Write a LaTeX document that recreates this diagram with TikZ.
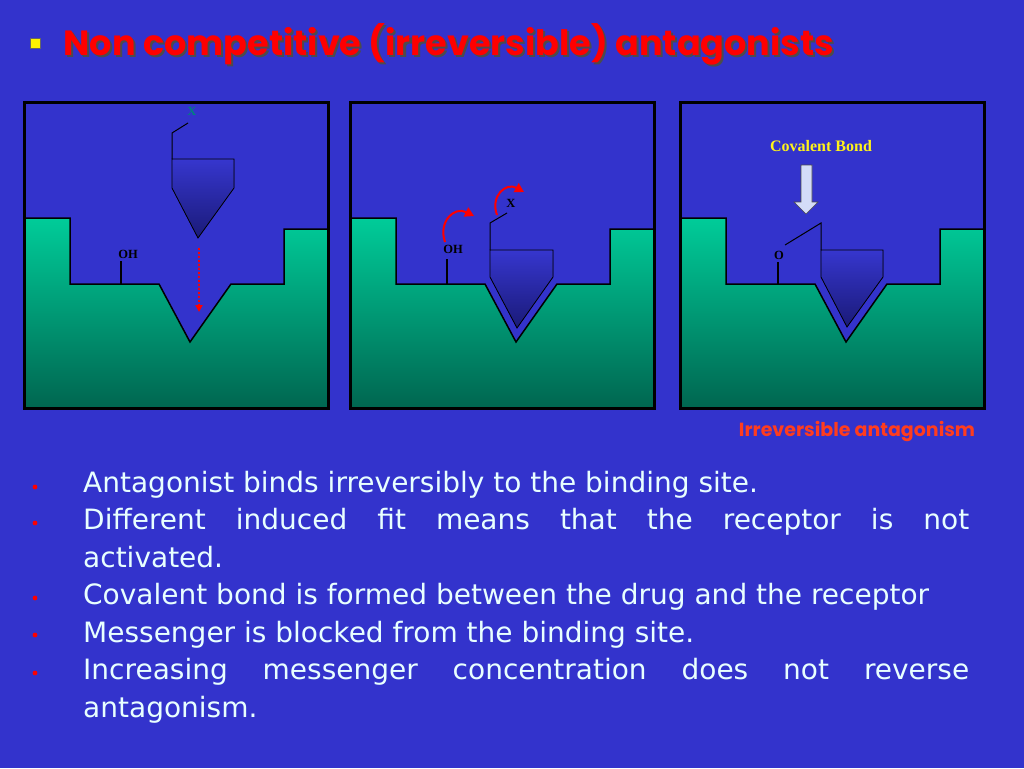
\documentclass[tikz,border=0pt]{standalone}
\usepackage{fontspec}
\setmainfont{Liberation Serif}
\newfontfamily\bodyfont{DejaVu Sans}
\newfontfamily\titlefont{Poppins}
\usetikzlibrary{arrows.meta,shadows}
\definecolor{bg}{HTML}{3333CC}
\definecolor{gtop}{HTML}{00CC99}
\definecolor{gbot}{HTML}{006650}
\definecolor{dtop}{HTML}{3636CE}
\definecolor{dbot}{HTML}{1A1A78}
\definecolor{txt}{HTML}{E8FFFF}
\definecolor{lav}{HTML}{D4DCF8}
\tikzset{
 receptor/.style={top color=gtop,bottom color=gbot,draw=black,line width=1.5pt},
 drug/.style={top color=dtop,bottom color=dbot,draw=black,line width=0.8pt},
 boxframe/.style={draw=black,line width=3pt},
 stem/.style={draw=black,line width=1.4pt},
 lbl/.style={font=\bfseries\fontsize{12.5}{13}\selectfont,inner sep=0pt},
 redarr/.style={draw=red,line width=2pt,-{Triangle[length=9pt,width=10pt]}},
}
\newcommand{\panelbase}{%
 \fill[receptor] (24,218) -- (70,218) -- (70,284) -- (159,284) -- (190,342) -- (231,284) -- (284,284) -- (284,229) -- (328,229) -- (328,408) -- (24,408) -- cycle;
 \draw[boxframe] (24,102) rectangle (328,408);
}
\begin{document}
\begin{tikzpicture}[x=1pt,y=-1pt]
\fill[bg] (0,0) rectangle (1024,768);
\useasboundingbox (0,0) rectangle (1024,768);
% title
\fill[yellow,draw=black!60,line width=0.4pt] (30,38) rectangle (40,48);
\node[anchor=west,text=black!70,font=\titlefont\bfseries\fontsize{35}{40}\selectfont] at (62,46) {Non competitive (irreversible) antagonists};
\node[anchor=west,text=red,font=\titlefont\bfseries\fontsize{35}{40}\selectfont] (title) at (60,44) {Non competitive (irreversible) antagonists};
% panel 1
\begin{scope}
 \panelbase
 \fill[drug] (172,159) -- (234,159) -- (234,188) -- (198,238) -- (172,188) -- cycle;
 \draw[line width=1pt] (188,123) -- (172,133) -- (172,159);
 \node[lbl,text=teal] (x1) at (192,111) {X};
 \draw[stem] (121,284) -- (121,261);
 \node[lbl] (oh1) at (128,254) {OH};
 \coordinate (a1) at (199,248);
 \coordinate (b1) at (199,312);
 \draw[red,line width=2pt,dotted,-{Triangle[length=7pt,width=7pt]}] (a1) -- (b1);
\end{scope}
% panel 2
\begin{scope}[xshift=326]
 \panelbase
 \fill[drug] (164,250) -- (227,250) -- (227,277) -- (191,328) -- (164,277) -- cycle;
 \draw[line width=1pt] (181,213) -- (164,223) -- (164,250);
 \node[lbl] (x2) at (185,203) {X};
 \draw[stem] (121,284) -- (121,259);
 \node[lbl] (oh2) at (127,249) {OH};
 \draw[redarr] (119,242) .. controls (112,222) and (128,206) .. (148,216);
 \draw[redarr] (171,215) .. controls (164,196) and (180,182) .. (198,192);
\end{scope}
% panel 3
\begin{scope}[xshift=656]
 \panelbase
 \fill[drug] (165,250) -- (227,250) -- (227,277) -- (191,327) -- (165,277) -- cycle;
 \draw[line width=1pt] (129,245) -- (165,223) -- (165,250);
 \draw[stem] (122,284) -- (122,262);
 \node[lbl] (o3) at (123,255) {O};
 \node[font=\bfseries\fontsize{16}{17}\selectfont,text=yellow!90!white] (cb) at (165,146) {Covalent Bond};
 \draw[fill=lav,draw=black!70,line width=0.6pt] (145,165) -- (156,165) -- (156,202) -- (162,202) -- (150,214) -- (138,202) -- (145,202) -- cycle;
\end{scope}
\node[font=\titlefont\bfseries\fontsize{19}{20}\selectfont,text={rgb,255:red,255;green,60;blue,30}] (irr) at (857,431) {Irreversible antagonism};
% bullets
\foreach \y in {487,523,598,635,673} \fill[red] (35,\y) circle (2.4);
\node[anchor=north west,inner sep=0pt,text width=886pt,align=justify,text=txt,
 font=\bodyfont\fontsize{28}{37.5}\selectfont] (body) at (83,471) {%
Antagonist binds irreversibly to the binding site.\par
Different induced fit means that the receptor is not\linebreak activated.\par
Covalent bond is formed between the drug and the receptor\par
Messenger is blocked from the binding site.\par
Increasing messenger concentration does not reverse\linebreak antagonism.\par};
\end{tikzpicture}
\end{document}
